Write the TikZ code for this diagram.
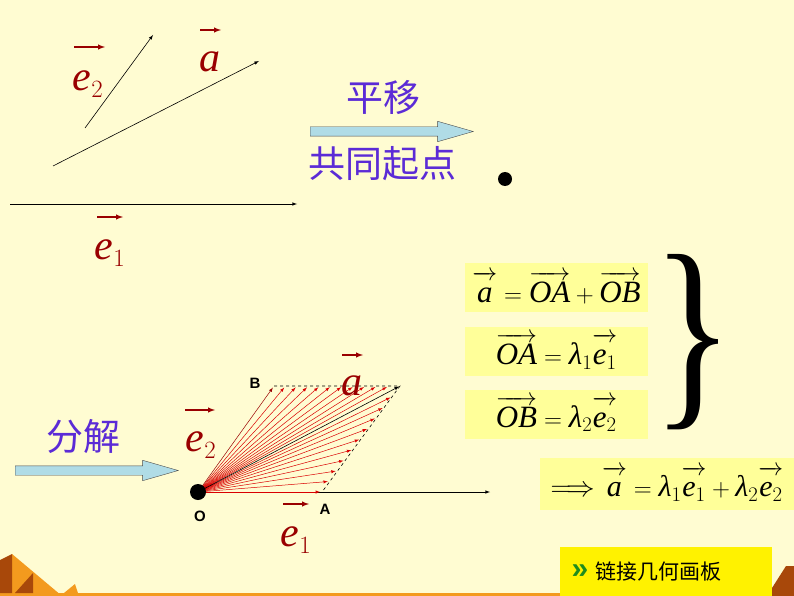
\documentclass[tikz,border=0pt]{standalone}
\usepackage{fontspec}
\setmainfont{Liberation Serif}
\newfontfamily\cjk{Noto Sans CJK SC}
\newfontfamily\arial{Liberation Sans}
\usetikzlibrary{shapes,arrows,positioning,calc}
\definecolor{bg}{HTML}{FFFCD2}
\definecolor{vred}{HTML}{990000}
\definecolor{cjkblue}{HTML}{5B2BD6}
\definecolor{arrowblue}{HTML}{B0DCE6}
\definecolor{boxyellow}{HTML}{FFFF99}
\definecolor{linkgreen}{HTML}{1E8C1E}
\definecolor{deco}{HTML}{F39A1E}
\definecolor{decodark}{HTML}{A8480A}
\newcommand{\vi}[1]{\mbox{\itshape #1}}
\newcommand{\vo}[1]{\overrightarrow{\rule{0pt}{0.74em}#1}}

\begin{document}
\begin{tikzpicture}[x=1pt, y=-1pt, >=latex]
    \tikzset{
        vlab/.style     =   { text=vred
                            , inner sep=0pt
                            , font=\fontsize{42}{42}\selectfont
        }
        , varrow/.style =   { draw=vred
                            , line width=1.4pt
                            , ->
        }
        , thinvec/.style =  { draw=black
                            , line width=0.6pt
                            , ->
        }
        , fan/.style    =   { draw=red!85!black
                            , line width=0.5pt
                            , ->
                            , shorten >= 2pt
        }
        , cjktext/.style =  { text=cjkblue
                            , font=\cjk\fontsize{37}{37}\selectfont
        }
        , fatarrow/.style = { single arrow
                            , draw=gray!60!black
                            , fill=arrowblue
                            , inner sep=0pt
                            , inner ysep=4.5pt
                            , single arrow head extend=5.5pt
                            , single arrow tip angle=32
                            , anchor=west
        }
        , eqbox/.style  =   { fill=boxyellow
                            , minimum width=183pt
                            , minimum height=49pt
                            , inner sep=0pt
                            , font=\fontsize{31}{31}\selectfont
        }
        , pt/.style     =   { font=\arial\bfseries\fontsize{15}{15}\selectfont
        }
    }
    \fill[bg] (0,0) rectangle (794,596);
    \useasboundingbox (0,0) rectangle (794,596);

    % bottom decoration
    \fill[deco] (0,593) rectangle (794,596);
    \fill[deco] (0,596) -- (12,554) -- (62,596) -- cycle;
    \fill[decodark] (0,560) -- (12,554) -- (12,593) -- (0,593) -- cycle;
    \fill[decodark] (15,593) -- (33,573) -- (33,593) -- cycle;
    \fill[deco] (64,593) -- (75,584) -- (78,593) -- cycle;
    \fill[decodark] (772,596) -- (772,588) -- (786,566) -- (794,566) -- (794,596) -- cycle;

    % three free vectors
    \coordinate(e1s) at (10,204);
    \coordinate(e1e) at (297,204);
    \coordinate(as)  at (53,166);
    \coordinate(ae)  at (259,61);
    \coordinate(e2s) at (85,128);
    \coordinate(e2e) at (153,35);
    \draw[thinvec] (e1s) -- (e1e);
    \draw[thinvec] (as)  -- (ae);
    \draw[thinvec] (e2s) -- (e2e);

    \node(le2)[vlab] at (88,84)  {\vi{e}$_2$};
    \node(la)[vlab]  at (210,62) {\vi{a}};
    \node(le1)[vlab] at (110,253) {\vi{e}$_1$};
    \draw[varrow] (74,47)  -- (105,47);
    \draw[varrow] (200,30) -- (221,30);
    \draw[varrow] (97,217) -- (123,217);

    % translation
    \node(move)[cjktext] at (383,98)  {平移};
    \node(shift)[fatarrow, minimum height=163pt] at (310,131.5) {};
    \node(start)[cjktext] at (382,164) {共同起点};
    \fill (505,179) circle (7pt);

    % equations
    \node(eq1)[eqbox] at (556.5,287.5) {$\vo{\vi{a}}=\vo{\vi{OA}}+\vo{\vi{OB}}$};
    \node(eq2)[eqbox] at (556.5,351.5) {$\vo{\vi{OA}}=\vi{λ}_1\vo{\vi{e}_1}$};
    \node(eq3)[eqbox] at (556.5,414)   {$\vo{\vi{OB}}=\vi{λ}_2\vo{\vi{e}_2}$};
    \node(brace) at (693,342) {\scalebox{0.8}[1]{\fontsize{212}{212}\selectfont\}}};
    \node(res)[eqbox, minimum width=254pt, minimum height=52pt, font=\fontsize{30}{30}\selectfont] at (667,484)
        {\scalebox{1.15}{$\Longrightarrow$}$\;\vo{\vi{a}}=\vi{λ}_1\vo{\vi{e}_1}+\vi{λ}_2\vo{\vi{e}_2}$};

    % decomposition
    \node(split)[cjktext] at (83,436) {分解};
    \node(dec)[fatarrow, minimum height=163pt] at (15,470.5) {};

    \coordinate(O) at (198,492);
    \coordinate(A) at (322,492);
    \coordinate(B) at (274,386);
    \coordinate(C) at (400,386);
    \coordinate(X) at (490,492);
    \draw[thinvec] (O) -- (X);
    \draw[dashed, line width=0.6pt] (B) -- (C) -- (A);
    \foreach \i in {1,...,10}
        \draw[fan] (O) -- ($(B)!\i/11!(C)$);
    \foreach \i in {1,...,9}
        \draw[fan] (O) -- ($(C)!\i/10!(A)$);
    \draw[fan, draw=vred] (O) -- (B);
    \draw[fan] (O) -- (A);
    \draw[thinvec, shorten >= 1pt] (O) -- (C);
    \fill (O) circle (8pt);

    \node(lO)[pt] at (200,516) {O};
    \node(lA)[pt] at (325,509) {A};
    \node(lB)[pt] at (255,383) {B};
    \node(la2)[vlab]  at (352,386) {\vi{a}};
    \node(le22)[vlab] at (201,445) {\vi{e}$_2$};
    \node(le12)[vlab] at (296,540) {\vi{e}$_1$};
    \draw[varrow] (342,355) -- (363,355);
    \draw[varrow] (185,410) -- (215,410);
    \draw[varrow] (283,504) -- (309,504);

    % link button
    \fill[yellow] (560,547) rectangle (772,596);
    \node(chev)[text=linkgreen, font=\arial\bfseries\fontsize{30}{30}\selectfont, inner sep=0pt] at (580,572) {»};
    \node(link)[right=7pt of chev, font=\cjk\fontsize{21}{21}\selectfont, inner sep=0pt] {链接几何画板};
\end{tikzpicture}
\end{document}
